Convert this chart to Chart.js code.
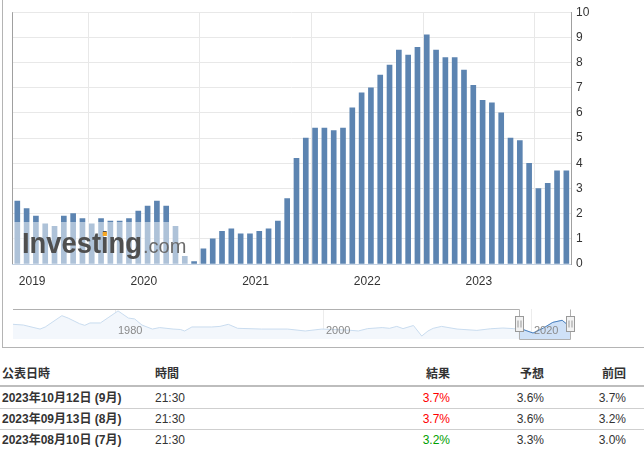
<!DOCTYPE html>
<html lang="ja">
<head>
<meta charset="utf-8">
<script src="https://cdn.jsdelivr.net/npm/chart.js@4.4.0/dist/chart.umd.min.js"></script>
<style>
  body { margin: 0; width: 644px; height: 453px; overflow: hidden; background: #fff; position: relative;
         font-family: "Liberation Sans", "Noto Sans CJK JP", sans-serif; color: #333; }
  #frame { position: absolute; left: 2px; top: -2px; width: 660px; height: 349px;
           border-left: 1px solid #b4b4b4; border-bottom: 1px solid #b4b4b4; }
  #mainBox { position: absolute; left: 0; top: 0; width: 644px; height: 300px; }
  #navBox { position: absolute; left: 0; top: 300px; width: 644px; height: 45px; }
  .cell { position: absolute; font-size: 12px; line-height: 20px; white-space: nowrap; }
  .b { font-weight: bold; }
  .line { position: absolute; left: 0; width: 644px; }
</style>
</head>
<body>
<div id="frame"></div>
<div id="mainBox"><canvas id="mainChart"></canvas></div>
<div id="navBox"><canvas id="navChart"></canvas></div>
<div id="table"></div>

<script>
// release month of each bar
const releaseMonths = [
    '2018-11', '2018-12',
    '2019-01', '2019-02', '2019-03', '2019-04', '2019-05', '2019-06', '2019-07', '2019-08', '2019-09', '2019-10', '2019-11', '2019-12',
    '2020-01', '2020-02', '2020-03', '2020-04', '2020-05', '2020-06', '2020-07', '2020-08', '2020-09', '2020-10', '2020-11', '2020-12',
    '2021-01', '2021-02', '2021-03', '2021-04', '2021-05', '2021-06', '2021-07', '2021-08', '2021-09', '2021-10', '2021-11', '2021-12',
    '2022-01', '2022-02', '2022-03', '2022-04', '2022-05', '2022-06', '2022-07', '2022-08', '2022-09', '2022-10', '2022-11', '2022-12',
    '2023-01', '2023-02', '2023-03', '2023-04', '2023-05', '2023-06', '2023-07', '2023-08', '2023-09', '2023-10'
];
const cpiValues = [
    2.5, 2.2, 1.9, 1.6, 1.5, 1.9, 2.0, 1.8, 1.6, 1.8, 1.7, 1.7, 1.8, 2.1, 2.3,
    2.5, 2.3, 1.5, 0.3, 0.1, 0.6, 1.0, 1.3, 1.4, 1.2, 1.2, 1.3, 1.4, 1.7, 2.6,
    4.2, 5.0, 5.4, 5.4, 5.3, 5.4, 6.2, 6.8, 7.0, 7.5, 7.9, 8.5, 8.3, 8.6, 9.1,
    8.5, 8.2, 8.2, 7.7, 7.1, 6.5, 6.4, 6.0, 5.0, 4.9, 4.0, 3.0, 3.2, 3.7, 3.7
];
const yearLabels = ['2019', '2020', '2021', '2022', '2023'];

// navigator (long history)
const navYears = [
    1970.2, 1971.2, 1972.8, 1973.3, 1974.9, 1975.5, 1976.6, 1977.1, 1977.6, 1978.6,
    1980.3, 1981.3, 1981.9, 1982.6, 1983.6, 1984.3, 1985.6, 1986.3, 1986.7, 1987.4,
    1989.3, 1990.1, 1990.9, 1991.8, 1994.1, 1996.6, 1998.3, 1999.9, 2002.4, 2003.4,
    2004.3, 2005.7, 2006.4, 2007.1, 2007.7, 2008.7, 2009.5, 2010.1, 2010.6, 2011.4,
    2012.9, 2014.8, 2016.1, 2017.3, 2018.3, 2019.2, 2020.2, 2021.2, 2022.1, 2023.0,
    2023.5, 2023.8
];
const navValues = [
    5.9, 5.4, 2.7, 4.1, 11.7, 10.1, 6.3, 5.2, 6.8, 6.8,
    14.9, 10.1, 9.5, 5.4, 2.7, 3.7, 2.7, 2.4, 1.4, 4.1,
    4.1, 4.5, 5.9, 3.2, 2.7, 2.7, 1.4, 2.7, 2.0, 1.4,
    3.0, 3.7, 3.2, 4.5, 3.0, 5.1, -2.0, 1.4, 3.2, 4.5,
    2.7, 1.8, 2.9, 3.4, 3.0, 2.5, 0.0, 3.4, 7.2, 8.6,
    5.7, 5.4
];
const navLabels = [1980, 2000, 2020];

// table
const tableHeaders = ['公表日時', '時間', '結果', '予想', '前回'];
const releaseDates = ['2023年10月12日 (9月)', '2023年09月13日 (8月)', '2023年08月10日 (7月)'];
const releaseTimes = ['21:30', '21:30', '21:30'];
const actuals = [3.7, 3.7, 3.2];
const forecasts = [3.6, 3.6, 3.3];
const previous = [3.7, 3.2, 3.0];

// year gridlines sit a bit before the january release bar
const yearPos = yearLabels.map(y => releaseMonths.indexOf(y + '-01') - 0.4);

const logoPlugin = {
    id: 'logo',
    afterDatasetsDraw(chart) {
        const ctx = chart.ctx;
        const a = chart.chartArea;
        ctx.save();
        // left edge line
        ctx.strokeStyle = '#a0a0a0';
        ctx.beginPath();
        ctx.moveTo(a.left + 0.5, a.top);
        ctx.lineTo(a.left + 0.5, a.bottom);
        ctx.stroke();

        ctx.fillStyle = 'rgba(255,255,255,0.5)';
        ctx.fillRect(a.left + 1, a.bottom - 42, 177, 42);

        const base = a.bottom - 11;
        ctx.font = 'bold 29px "Liberation Sans"';
        const word = 'Investing';
        const sc = 120 / ctx.measureText(word).width;
        ctx.save();
        ctx.translate(a.left + 10, base);
        ctx.scale(sc, 1);
        ctx.fillStyle = '#4f4f4f';
        ctx.fillText(word, 0, 0);
        const ix = ctx.measureText('Invest').width;
        const iw = ctx.measureText('i').width;
        ctx.fillStyle = '#f6a623';
        ctx.fillRect(ix + iw / 2 - 2.2, -21, 4.4, 4);
        ctx.restore();

        ctx.font = '20px "Liberation Sans"';
        ctx.fillStyle = '#6a6a6a';
        ctx.fillText('.com', a.left + 131, base);
        ctx.restore();
    }
};

const mainChart = new Chart(document.getElementById('mainChart'), {
    type: 'bar',
    data: {
        datasets: [{
            data: cpiValues.map((v, i) => ({ x: i, y: v })),
            backgroundColor: '#5c84b1',
            borderWidth: 0,
            barThickness: 5
        }]
    },
    options: {
        responsive: true,
        maintainAspectRatio: false,
        animation: false,
        layout: { padding: { left: 12, top: 8, right: 0, bottom: 0 } },
        plugins: { legend: { display: false }, tooltip: { enabled: false } },
        scales: {
            x: {
                type: 'linear',
                offset: false,
                min: -0.57,
                max: 59.5,
                afterBuildTicks: scale => { scale.ticks = yearPos.map(v => ({ value: v })); },
                afterFit: scale => { scale.height = 36; },
                ticks: {
                    autoSkip: false,
                    maxRotation: 0,
                    padding: 10,
                    color: '#333',
                    font: { family: 'Liberation Sans', size: 12 },
                    callback: (value, index) => yearLabels[index]
                },
                grid: { color: '#e8e8e8', drawTicks: false },
                border: { color: '#c3d1e2' }
            },
            y: {
                position: 'right',
                min: 0,
                max: 10,
                afterFit: scale => { scale.width = 73; },
                ticks: {
                    stepSize: 1,
                    padding: 5,
                    color: '#333',
                    font: { family: 'Liberation Sans', size: 12 }
                },
                grid: { color: '#e8e8e8', drawTicks: false },
                border: { color: '#a0a0a0' }
            }
        }
    },
    plugins: [logoPlugin]
});

// navigator
const ry = releaseMonths[0].split('-');
const selStart = Number(ry[0]) + (Number(ry[1]) - 1) / 12;
const navPoints = navYears.map((y, i) => ({ x: y, y: navValues[i] }));

const navPlugin = {
    id: 'nav',
    beforeDatasetsDraw(chart) {
        const ctx = chart.ctx;
        const a = chart.chartArea;
        ctx.save();
        ctx.strokeStyle = '#ececec';
        navLabels.forEach(y => {
            const x = Math.round(chart.scales.x.getPixelForValue(y)) + 0.5;
            ctx.beginPath();
            ctx.moveTo(x, a.top);
            ctx.lineTo(x, a.bottom);
            ctx.stroke();
        });
        ctx.restore();
    },
    afterDatasetsDraw(chart) {
        // selected range: same series drawn stronger, clipped to the selection
        const ctx = chart.ctx;
        const a = chart.chartArea;
        const pts = chart.getDatasetMeta(0).data;
        const sx = chart.scales.x.getPixelForValue(selStart);
        ctx.save();
        ctx.beginPath();
        ctx.rect(sx, a.top, a.right - sx, a.bottom - a.top);
        ctx.clip();
        ctx.beginPath();
        pts.forEach((p, i) => (i ? ctx.lineTo(p.x, p.y) : ctx.moveTo(p.x, p.y)));
        ctx.lineTo(pts[pts.length - 1].x, a.bottom);
        ctx.lineTo(pts[0].x, a.bottom);
        ctx.closePath();
        ctx.fillStyle = '#cfe1f7';
        ctx.fill();
        ctx.beginPath();
        pts.forEach((p, i) => (i ? ctx.lineTo(p.x, p.y) : ctx.moveTo(p.x, p.y)));
        ctx.strokeStyle = '#4a80bf';
        ctx.lineWidth = 1;
        ctx.stroke();
        ctx.restore();
    },
    afterDraw(chart) {
        const ctx = chart.ctx;
        const a = chart.chartArea;
        const sx = Math.round(chart.scales.x.getPixelForValue(selStart)) + 0.5;
        const ex = Math.round(a.right) - 0.5;
        const top = Math.round(a.top) + 0.5;
        const bot = Math.round(a.bottom) + 0.5;
        ctx.save();
        ctx.font = '11px "Liberation Sans"';
        ctx.fillStyle = '#8a8a8a';
        ctx.textBaseline = 'middle';
        navLabels.forEach(y => {
            ctx.fillText(String(y), chart.scales.x.getPixelForValue(y) + 3, a.top + 22);
        });

        ctx.strokeStyle = '#b0b0b0';
        ctx.lineWidth = 1;
        ctx.beginPath();
        ctx.moveTo(a.left, top);
        ctx.lineTo(sx, top);
        ctx.lineTo(sx, bot);
        ctx.lineTo(ex, bot);
        ctx.lineTo(ex, top);
        ctx.stroke();

        [sx, ex].forEach(x => {
            ctx.fillStyle = '#f2f2f2';
            ctx.strokeStyle = '#999';
            ctx.fillRect(x - 4, top + 7, 8, 15);
            ctx.strokeRect(x - 4, top + 7, 8, 15);
            ctx.beginPath();
            ctx.moveTo(x - 1.5, top + 11); ctx.lineTo(x - 1.5, top + 18);
            ctx.moveTo(x + 1.5, top + 11); ctx.lineTo(x + 1.5, top + 18);
            ctx.stroke();
        });
        ctx.restore();
    }
};

const navChart = new Chart(document.getElementById('navChart'), {
    type: 'line',
    data: {
        datasets: [{
            data: navPoints,
            borderColor: '#c9dcef',
            backgroundColor: '#f3f7fc',
            borderWidth: 1,
            pointRadius: 0,
            tension: 0,
            fill: 'start'
        }]
    },
    options: {
        responsive: true,
        maintainAspectRatio: false,
        animation: false,
        layout: { padding: { left: 13, right: 73, top: 9, bottom: 6 } },
        plugins: { legend: { display: false }, tooltip: { enabled: false } },
        scales: {
            x: { type: 'linear', display: false, min: 1970.2, max: 2023.85 },
            y: { display: false, min: -4, max: 16.2 }
        }
    },
    plugins: [navPlugin]
});

// table below the chart
const table = document.getElementById('table');
function addCell(text, top, opts) {
    const d = document.createElement('div');
    d.className = 'cell' + (opts.bold ? ' b' : '');
    d.textContent = text;
    d.style.top = top + 'px';
    if (opts.left !== undefined) d.style.left = opts.left + 'px';
    if (opts.right !== undefined) d.style.right = opts.right + 'px';
    if (opts.color) d.style.color = opts.color;
    table.appendChild(d);
}
function addLine(top, h, color) {
    const d = document.createElement('div');
    d.className = 'line';
    d.style.top = top + 'px';
    d.style.height = h + 'px';
    d.style.background = color;
    table.appendChild(d);
}

const colLeft = [2, 155];
const colRight = [194, 100, 18];
const headerTop = 364;
const rowTops = [388, 409, 430];

addCell(tableHeaders[0], headerTop, { left: colLeft[0], bold: true });
addCell(tableHeaders[1], headerTop, { left: colLeft[1], bold: true });
addCell(tableHeaders[2], headerTop, { right: colRight[0], bold: true });
addCell(tableHeaders[3], headerTop, { right: colRight[1], bold: true });
addCell(tableHeaders[4], headerTop, { right: colRight[2], bold: true });
addLine(385, 2, '#bdbdbd');
addLine(408, 1, '#cfcfcf');
addLine(429, 1, '#cfcfcf');

releaseDates.forEach((d, i) => {
    const top = rowTops[i];
    addCell(d, top, { left: colLeft[0], bold: true });
    addCell(releaseTimes[i], top, { left: colLeft[1] });
    const c = actuals[i] > forecasts[i] ? '#ff0000' : '#00a000';
    addCell(actuals[i].toFixed(1) + '%', top, { right: colRight[0], color: c });
    addCell(forecasts[i].toFixed(1) + '%', top, { right: colRight[1] });
    addCell(previous[i].toFixed(1) + '%', top, { right: colRight[2] });
});
</script>
</body>
</html>
